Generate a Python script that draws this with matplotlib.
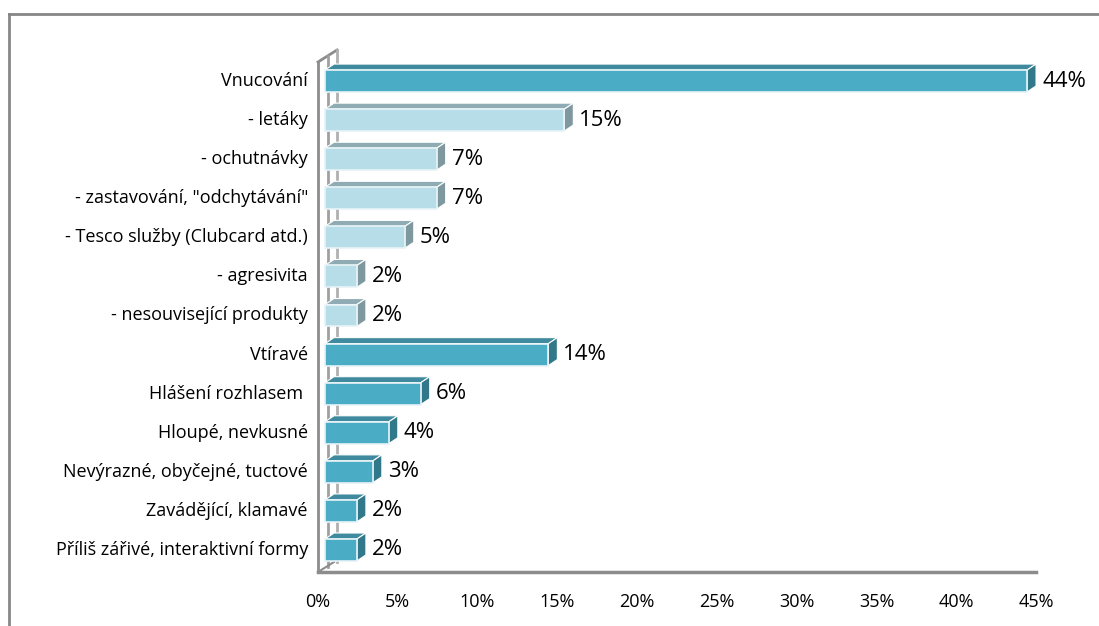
import numpy as np
import matplotlib
matplotlib.use("Agg")
import matplotlib.pyplot as plt
from matplotlib.patches import Polygon, Rectangle
from matplotlib.lines import Line2D

plt.rcParams['font.family'] = ['Open Sans', 'DejaVu Sans']

# data
categories = ["Vnucování", "- letáky", "- ochutnávky", '- zastavování, "odchytávání"',
              "- Tesco služby (Clubcard atd.)", "- agresivita", "- nesouvisející produkty",
              "Vtíravé", "Hlášení rozhlasem ", "Hloupé, nevkusné",
              "Nevýrazné, obyčejné, tuctové", "Zavádějící, klamavé",
              "Příliš zářivé, interaktivní formy"]
values = [44, 15, 7, 7, 5, 2, 2, 14, 6, 4, 3, 2, 2]
is_sub = [False, True, True, True, True, True, True, False, False, False, False, False, False]
xticks = [0, 5, 10, 15, 20, 25, 30, 35, 40, 45]

# colours: front, top, side
dark = ("#4bacc6", "#3f8a9e", "#31788a")
light = ("#b7dee8", "#8fabb3", "#7f98a0")

W, H = 1099, 626
fig = plt.figure(figsize=(W / 100, H / 100), dpi=100)
# axes spans floor from 318 to 1036 px, top 50 to 572 px
ax = fig.add_axes([318 / W, (H - 572) / H, 718 / W, 522 / H])
n = len(categories)
spacing = 39.08
ax.set_xlim(0, 45)
ax.set_ylim((572 - 81) / spacing, (50 - 81) / spacing)
ax.axis("off")

# pixel -> data conversions
sx = 718 / 45.0
sy = spacing
def px(dx):
    return dx / sx
def py(dy):
    return dy / sy

off_x = px(7)      # front face shift from front plane
dep_x, dep_y = px(9), py(6)   # depth of bars
bh = 0.56

ymin, ymax = ax.get_ylim()
wall_top = ymax + py(12)
floor_y = ymin

# wall and floor
grey = "#8c8c8c"
ax.add_line(Line2D([0, 0], [floor_y, wall_top], color=grey, lw=2, clip_on=False, zorder=1))
ax.add_line(Line2D([0, px(19)], [wall_top, wall_top - py(12)], color=grey, lw=2, clip_on=False, zorder=1))
ax.add_line(Line2D([px(19), px(19)], [wall_top - py(12), floor_y - py(10)], color="#b0b0b0", lw=2, clip_on=False, zorder=1))
ax.add_line(Line2D([px(10), px(10)], [wall_top - py(6), floor_y - py(5)], color="#a0a0a0", lw=2, clip_on=False, zorder=1))
ax.add_line(Line2D([0, 45], [floor_y, floor_y], color=grey, lw=2.5, clip_on=False, zorder=1))
ax.add_line(Line2D([0, px(16)], [floor_y, floor_y - py(10)], color=grey, lw=1.5, clip_on=False, zorder=1))

for i, (v, sub) in enumerate(zip(values, is_sub)):
    front, top, side = light if sub else dark
    x0 = off_x
    x1 = off_x + v
    yt = i - bh / 2
    yb = i + bh / 2
    ax.add_patch(Polygon([(x0, yt), (x1, yt), (x1 + dep_x, yt - dep_y), (x0 + dep_x, yt - dep_y)],
                         closed=True, facecolor=top, edgecolor="white", lw=0.8, zorder=3))
    ax.add_patch(Polygon([(x1, yt), (x1 + dep_x, yt - dep_y), (x1 + dep_x, yb - dep_y), (x1, yb)],
                         closed=True, facecolor=side, edgecolor="white", lw=0.8, zorder=3))
    ax.add_patch(Rectangle((x0, yt), v, bh, facecolor=front, edgecolor="#e8f4f8", lw=1.2, zorder=4))
    ax.text(v + px(22), i, f"{v}%", ha="left", va="center", fontsize=16, color="black", zorder=5)
    ax.text(-px(10), i, categories[i], ha="right", va="center", fontsize=13, color="black")

for t in xticks:
    ax.text(t, floor_y + py(30), f"{t}%", ha="center", va="center", fontsize=13, color="black")

# outer frame
fig.add_artist(Line2D([9 / W, 9 / W], [0, 1 - 14 / H], color="#868686", lw=2, transform=fig.transFigure))
fig.add_artist(Line2D([9 / W, 1], [1 - 14 / H, 1 - 14 / H], color="#868686", lw=2, transform=fig.transFigure))

fig.savefig("out.png", dpi=100)
